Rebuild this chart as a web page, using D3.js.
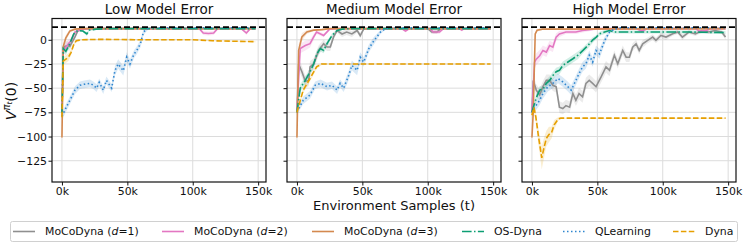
<!DOCTYPE html>
<html><head><meta charset="utf-8">
<script src="https://cdn.jsdelivr.net/npm/d3@7"></script>
<style>body{margin:0;background:#fff} text{font-family:"DejaVu Sans",sans-serif;fill:#111}</style>
</head><body><svg id="c" width="748" height="247"></svg>
<script>
// ---------- data ----------
const panelTitles = ["Low Model Error", "Medium Model Error", "High Model Error"];
const seriesNames = ["MoCoDyna (d=1)", "MoCoDyna (d=2)", "MoCoDyna (d=3)", "OS-Dyna", "QLearning", "Dyna"];
const xTicks = [0, 50, 100, 150];           // thousands of samples
const yTicks = [0, -25, -50, -75, -100, -125];
const optimalValue = 13;
// each point: [samples (k), value, spread]
const lowD1 = [[0,-75,3],[1,-10,5],[2,-7,5],[4,-6,5],[6,-7,4],[8,-2,3],[10,3,2],[12,9,1.5],[15,11,1],[20,11.5,0.6],[60,11.7,0.5],[100,11.5,0.5],[148,11.6,0.5]];
const lowD2 = [[0,-75,3],[1,-11,5],[3,-8,5],[5,-4,4],[7,-1,3],[10,8,2],[14,10.5,1],[20,11.5,0.6],[105,11.5,0.6],[108,7,2],[112,6.5,2],[116,7,2],[119,11.5,0.6],[137,11.5,0.6],[141,7,2],[144,11.5,0.6],[148,11.5,0.6]];
const lowD3 = [[0,-101,3],[0.5,-60,5],[1,-7,5],[3,2,3],[6,9,2],[10,11,1],[15,11.5,0.6],[148,11.5,0.6]];
const lowOS = [[0,-76,3],[1,-9,4],[3,-12,4],[6,-4,3],[9,6,2],[12,9.6,1],[16,9,1],[19,6,2],[21,10,1],[26,11,0.8],[35,11.5,0.6],[148,11.5,0.6]];
const lowQL = [[0,-79,4],[3.6,-69,4],[7.4,-59,4],[10,-52,4],[13.8,-47,4],[17,-46,4],[21.4,-45,4],[24,-47,4],[26.5,-50,4],[28.5,-44,4],[31.6,-52,4],[34,-42,4],[38,-50,4],[40.5,-32,5],[43,-25,5],[46.9,-32,5],[49.5,-18,5],[52,-25,5],[55,-15,4],[57.2,-11,4],[60,-4,4],[62.3,8,3],[66.1,12,1],[70,12.5,0.5],[148,12.5,0.5]];
const lowDyna = [[0,-80,3],[1,-22,4],[3,-20,4],[5,-18,4],[7,-13,3],[9,-5,2],[11,-1,1],[15,0,0.6],[30,0.5,0.5],[60,0,0.5],[100,0,0.5],[115,-1,0.5],[148,-2,0.5]];

const medD1 = [[0,-75,3],[1.3,-25,6],[3.8,-33,6],[6.4,-43,6],[9,-42,6],[10,-28,6],[12.8,-25,6],[16.6,-11,5],[20.4,-4,4],[23,-7.5,4],[25.5,-7.5,4],[28,3,3],[30.7,9.6,2],[34.5,6,3],[38,8,3],[42,6,3],[46,9.6,2],[48.4,4.4,3],[51,11,1],[55,11.5,0.6],[100,11.5,0.6],[103,8,2],[107,8,2],[110,11.5,0.6],[148,11.5,0.6]];
const medD2 = [[0,-75,3],[2.5,-9,5],[6.4,-6,5],[10,-4,4],[12.8,3,3],[15,8,2],[20.4,4.5,2],[25,11,1],[30,11.5,0.6],[80,11.5,0.6],[83,9,1.5],[86,11.5,0.6],[102,11.5,0.6],[104,8,2],[109,8,2],[112,11.5,0.6],[124,11.5,0.6],[126,10,1.5],[128,11.5,0.6],[148,11.5,0.6]];
const medD3 = [[0,-101,3],[1.3,-11,6],[3.8,3,4],[7.6,8,2],[12.8,10,1],[19,10.5,1],[25,11.5,0.6],[148,11.5,0.6]];
const medOS = [[0,-75,3],[2.5,-50,4],[6.4,-42,4],[10,-33,4],[12.8,-25,4],[15.3,-14.5,4],[17.9,-9,3],[20.4,-11,3],[23,-4,3],[26.8,4.4,2],[30.7,9.6,1],[34.5,11,1],[40,11.5,0.6],[148,11.5,0.6]];
const medQL = [[0,-74.5,3],[4.8,-62.5,4],[10,-57,4],[14,-47,4],[18,-45,4],[23,-48.5,4],[26.8,-47,4],[30.7,-52,4],[33,-45,4],[35.7,-50,4],[39.5,-37,5],[42,-26.5,5],[46,-31.6,5],[48.4,-18,5],[51,-23,5],[55,-9,4],[58.8,-1,4],[63.9,8,2],[67.7,11.6,1],[72,12.5,0.5],[148,12.5,0.5]];
const medDyna = [[0,-75,3],[4.8,-52,3],[10,-40,3],[15,-28,2],[19,-25,1],[30,-25,0.5],[148,-25,0.5]];

const highD1 = [[0,-75,3],[1,-42,6],[3.3,-52,6],[5.9,-57,6],[8.4,-48.5,6],[11,-42,6],[13.5,-42,6],[16,-47,6],[18.5,-48.5,6],[21,-69.6,6],[23.6,-71,6],[26,-68,6],[28.8,-69.6,6],[31.3,-55.6,6],[33.6,-62.5,6],[36,-55.6,6],[38.7,-59,6],[41.3,-45,6],[43.8,-42,6],[46.4,-45,6],[49,-48.5,6],[52.8,-38.5,6],[56.6,-28,6],[59.3,-31.6,6],[63,-16,5],[65.6,-24.7,5],[69.4,-11,5],[72,-18,5],[74.5,-18,5],[77,-7.6,4],[79.6,-4.1,4],[82,-11,4],[84.7,-4.1,4],[88.5,-0.6,3],[92.3,2.8,3],[94.8,-0.6,3],[98.6,4.5,3],[102.5,2.8,3],[107.6,6.2,2],[111.4,8,2],[115,2.8,3],[120,8,2],[125,6,2],[130,9.6,2],[135,8,2],[140,9.6,2],[145,8,2],[148,3,3]];
const highD2 = [[0,-75,3],[1,-50,6],[2,-23,6],[3.3,-20,6],[5.9,-16.5,6],[8.4,-11,5],[11,-12.7,5],[13.5,-6,5],[16,-7.6,5],[18.5,2.8,4],[21,6,3],[26,8,2],[33.6,8,2],[38.7,9.6,2],[43.8,10.3,1.5],[50,11.5,1],[80,11.5,1],[84,9,2],[88,11.5,1],[125,11.5,1],[128,9,2],[133,9.5,2],[136,11.5,1],[148,11.5,1]];
const highD3 = [[0,-101,3],[1,-75,6],[2,-20,6],[2.5,6,3],[4,10,1.5],[8,11,1],[148,11.5,0.6]];
const highOS = [[0,-75,3],[1,-70,4],[3.3,-60,4],[5.9,-52,4],[8.4,-51,4],[11,-45,4],[13.5,-42,4],[16,-37,4],[18.5,-33,4],[21,-31.6,4],[23.6,-26.5,4],[27.5,-23,4],[31.3,-19.6,4],[35.1,-16,4],[39,-11,3],[42.8,-5.9,3],[46.6,0,3],[49.2,2.8,2],[51.7,6.2,2],[55.5,8,2],[59.3,9.6,1.5],[63,8,1.5],[90,8,1.5],[120,8,1.5],[148,7.5,1.5]];
const highQL = [[0,-75,3],[2,-70,5],[5.9,-62.5,5],[8.4,-55.6,5],[12.2,-48.5,5],[16,-45,5],[19.9,-40,5],[23.6,-43.6,5],[27.5,-48.5,5],[30,-52,5],[33.6,-42,5],[36,-35,5],[38.7,-28,5],[41.3,-24.7,5],[43.8,-16,5],[46.4,-23,5],[49,-11,5],[51.7,-14.5,5],[55.5,-1,4],[59.3,8,2],[63,11,1],[68,12.5,0.5],[148,12.5,0.5]];
const highDyna = [[0,-78,3],[1.5,-70,4],[3,-80,6],[5,-100,8],[7.5,-122,12],[9.5,-110,10],[11,-102,8],[13,-98,8],[15,-96,6],[17,-88,5],[20,-82,2],[22,-81,0.5],[148,-81,0.5]];

const panelData = [
  [lowD1, lowD2, lowD3, lowOS, lowQL, lowDyna],
  [medD1, medD2, medD3, medOS, medQL, medDyna],
  [highD1, highD2, highD3, highOS, highQL, highDyna]
];

// ---------- style / layout ----------
const colors = ["#8f8f8f", "#e377c2", "#d4894f", "#0c9e73", "#2f86cf", "#e69f00"];
const dashes = [null, null, null, "9.6,2.4,1.5,2.4", "1.5,2.5", "5.5,2.4"];
const panelLeft = [52, 287, 522];
const panelW = 214, plotTop = 18.5, plotH = 163.5;

const svg = d3.select("#c");
const x = d3.scaleLinear().domain([-7.6, 156]).range([0, panelW]);
const y = d3.scaleLinear().domain([-147, 22]).range([plotH, 0]);

panelData.forEach((series, p) => {
  const g = svg.append("g").attr("transform", `translate(${panelLeft[p]},${plotTop})`);
  const cid = "clip" + p;
  g.append("clipPath").attr("id", cid).append("rect").attr("width", panelW).attr("height", plotH);

  // grid
  g.append("g").selectAll("line").data(xTicks).join("line")
    .attr("x1", d => x(d)).attr("x2", d => x(d)).attr("y1", 0).attr("y2", plotH)
    .attr("stroke", "#dcdcdc").attr("stroke-width", 1);
  g.append("g").selectAll("line").data(yTicks).join("line")
    .attr("y1", d => y(d)).attr("y2", d => y(d)).attr("x1", 0).attr("x2", panelW)
    .attr("stroke", "#dcdcdc").attr("stroke-width", 1);

  const plot = g.append("g").attr("clip-path", `url(#${cid})`);
  const area = d3.area().x(d => x(d[0])).y0(d => y(d[1] - d[2])).y1(d => y(d[1] + d[2]));
  const line = d3.line().x(d => x(d[0])).y(d => y(d[1]));
  series.forEach((s, i) => {
    plot.append("path").attr("d", area(s)).attr("fill", colors[i]).attr("opacity", 0.18);
  });
  series.forEach((s, i) => {
    plot.append("path").attr("d", line(s)).attr("fill", "none").attr("stroke", colors[i])
      .attr("stroke-width", 1.6).attr("stroke-dasharray", dashes[i]);
  });
  plot.append("line").attr("x1", 0).attr("x2", panelW).attr("y1", y(optimalValue)).attr("y2", y(optimalValue))
    .attr("stroke", "#000").attr("stroke-width", 1.8).attr("stroke-dasharray", "6,3");

  // axes
  const xa = g.append("g").attr("transform", `translate(0,${plotH})`)
    .call(d3.axisBottom(x).tickValues(xTicks).tickFormat(d => d + "k").tickSize(3.5).tickPadding(1.5));
  const ya = g.append("g")
    .call(d3.axisLeft(y).tickValues(yTicks).tickFormat(d => d < 0 ? "\u2212" + (-d) : d).tickSize(3.5).tickPadding(1.5));
  [xa, ya].forEach(a => {
    a.select(".domain").remove();
    a.selectAll("text").attr("font-size", 10.9).attr("font-family", "DejaVu Sans").attr("fill", "#111");
    a.selectAll("line").attr("stroke", "#111");
  });
  if (p > 0) ya.selectAll("text").remove();

  g.append("rect").attr("width", panelW).attr("height", plotH).attr("fill", "none")
    .attr("stroke", "#111").attr("stroke-width", 1.2);

  g.append("text").attr("x", panelW / 2).attr("y", -4.3).attr("text-anchor", "middle")
    .attr("font-size", 13.5).text(panelTitles[p]);
});

// x label
svg.append("text").attr("x", panelLeft[1] + panelW / 2).attr("y", 209.5).attr("text-anchor", "middle")
  .attr("font-size", 13).text("Environment Samples (t)");

// y label V^{pi_t}(0)
const yl = svg.append("text").attr("transform", "translate(15.5,101) rotate(-90)")
  .attr("text-anchor", "middle").attr("font-size", 14);
yl.append("tspan").attr("font-style", "italic").text("V");
yl.append("tspan").attr("font-style", "italic").attr("font-size", 10).attr("dy", -5.5).text("\u03c0");
yl.append("tspan").attr("font-style", "italic").attr("font-size", 7.2).attr("dy", 2.2).text("t");
yl.append("tspan").attr("dy", 3.3).text("(0)");

// legend
const legLineX = [13, 162, 312, 462, 563, 673];
const legend = svg.append("g");
legend.append("rect").attr("x", 10.5).attr("y", 221.5).attr("width", 727).attr("height", 20)
  .attr("rx", 2).attr("fill", "#fff").attr("stroke", "#d0d0d0").attr("stroke-width", 1);
seriesNames.forEach((name, i) => {
  const lx = legLineX[i];
  legend.append("line").attr("x1", lx).attr("x2", lx + 22).attr("y1", 231.5).attr("y2", 231.5)
    .attr("stroke", colors[i]).attr("stroke-width", 1.6).attr("stroke-dasharray", dashes[i]);
  const t = legend.append("text").attr("x", lx + 32).attr("y", 235.3).attr("font-size", 10.9);
  const m = name.match(/^(.*\()d(=.*)$/);
  if (m) {
    t.append("tspan").text(m[1]);
    t.append("tspan").attr("font-style", "italic").text("d");
    t.append("tspan").text(m[2]);
  } else t.text(name);
});
</script></body></html>
